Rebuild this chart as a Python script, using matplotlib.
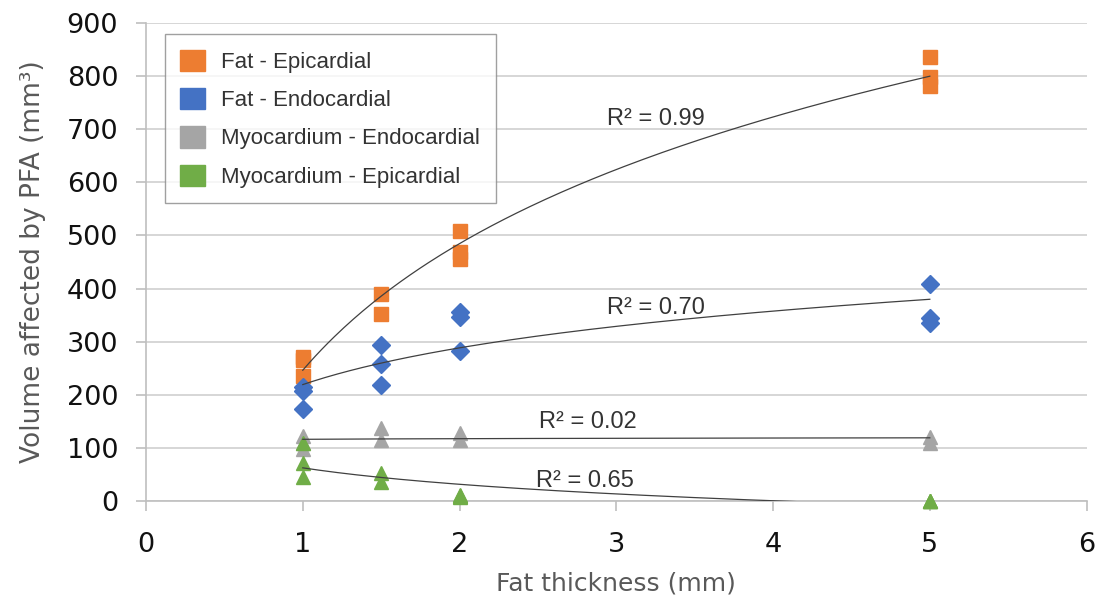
import numpy as np
import matplotlib
matplotlib.use('Agg')
import matplotlib.pyplot as plt
from matplotlib.patches import Patch

plt.rcParams['font.family'] = ['Liberation Sans', 'DejaVu Sans']

# data (3 samples per thickness, some overlap)
fat_epi_x = [1, 1, 1, 1.5, 1.5, 2, 2, 2, 5, 5, 5]
fat_epi_y = [272, 266, 235, 390, 352, 508, 468, 456, 836, 798, 782]

fat_endo_x = [1, 1, 1, 1.5, 1.5, 1.5, 2, 2, 2, 5, 5, 5]
fat_endo_y = [215, 207, 174, 294, 258, 218, 356, 347, 282, 409, 345, 336]

myo_endo_x = [1, 1, 1, 1.5, 1.5, 2, 2, 5, 5]
myo_endo_y = [122, 110, 98, 138, 115, 128, 114, 120, 110]

myo_epi_x = [1, 1, 1, 1.5, 1.5, 2, 2, 2, 5, 5, 5]
myo_epi_y = [109, 71, 45, 53, 36, 12, 7, 9, 0, 0, 0]

r2_labels = ['R² = 0.99', 'R² = 0.70', 'R² = 0.02', 'R² = 0.65']
r2_pos = [(2.94, 708), (2.94, 353), (2.51, 137), (2.49, 26)]

series = [
    ('Fat - Epicardial', fat_epi_x, fat_epi_y, 's', '#ED7D31', 10.5),
    ('Fat - Endocardial', fat_endo_x, fat_endo_y, 'D', '#4472C4', 9),
    ('Myocardium - Endocardial', myo_endo_x, myo_endo_y, '^', '#A5A5A5', 10),
    ('Myocardium - Epicardial', myo_epi_x, myo_epi_y, '^', '#70AD47', 10),
]

fig = plt.figure(figsize=(11.02, 6.04), dpi=100)
ax = fig.add_axes([0.1325, 0.1705, 0.8535, 0.7915])

xs = np.linspace(1, 5, 200)
handles = []
for name, x, y, m, c, ms in series:
    ax.plot(x, y, linestyle='none', marker=m, color=c, markersize=ms,
            zorder=3, clip_on=False)
    # logarithmic trendline (Excel style)
    b, a = np.polyfit(np.log(x), y, 1)
    ax.plot(xs, a + b * np.log(xs), color='#404040', lw=0.9, zorder=4)
    handles.append(Patch(facecolor=c, edgecolor=c, label=name))

for lab, (tx, ty) in zip(r2_labels, r2_pos):
    ax.text(tx, ty, lab, fontsize=17, color='#333333', va='baseline', ha='left')

ax.set_xlim(0, 6)
ax.set_ylim(0, 900)
ax.set_xticks(range(0, 7))
ax.set_yticks(range(0, 901, 100))
ax.yaxis.grid(True, color='#D0D0D0', lw=1.2)
ax.set_axisbelow(True)
for s in ['top', 'right']:
    ax.spines[s].set_visible(False)
for s in ['bottom', 'left']:
    ax.spines[s].set_color('#BFBFBF')
    ax.spines[s].set_linewidth(1.2)
ax.tick_params(axis='both', length=7, width=1.2, color='#BFBFBF')
ax.tick_params(axis='y', pad=13)
ax.tick_params(axis='x', pad=15)
for t in ax.get_xticklabels() + ax.get_yticklabels():
    t.set_fontfamily('DejaVu Sans')
    t.set_fontsize(19.5)
    t.set_color('#111111')
ax.set_xlabel('Fat thickness (mm)', fontsize=18, color='#595959', labelpad=10,
              family='DejaVu Sans')
ax.set_ylabel('Volume affected by PFA (mm³)', fontsize=19, color='#595959',
              labelpad=15, family='DejaVu Sans')

leg = ax.legend(handles=handles, loc='upper left', bbox_to_anchor=(0.02, 0.977),
                borderaxespad=0, fontsize=16, frameon=True, fancybox=False,
                handlelength=1.1, handleheight=1.1, labelspacing=0.68,
                borderpad=0.7, handletextpad=0.75)
for t in leg.get_texts():
    t.set_color('#333333')
leg.get_frame().set_edgecolor('#888888')
leg.get_frame().set_linewidth(1.0)

fig.savefig('out.png', dpi=100)
